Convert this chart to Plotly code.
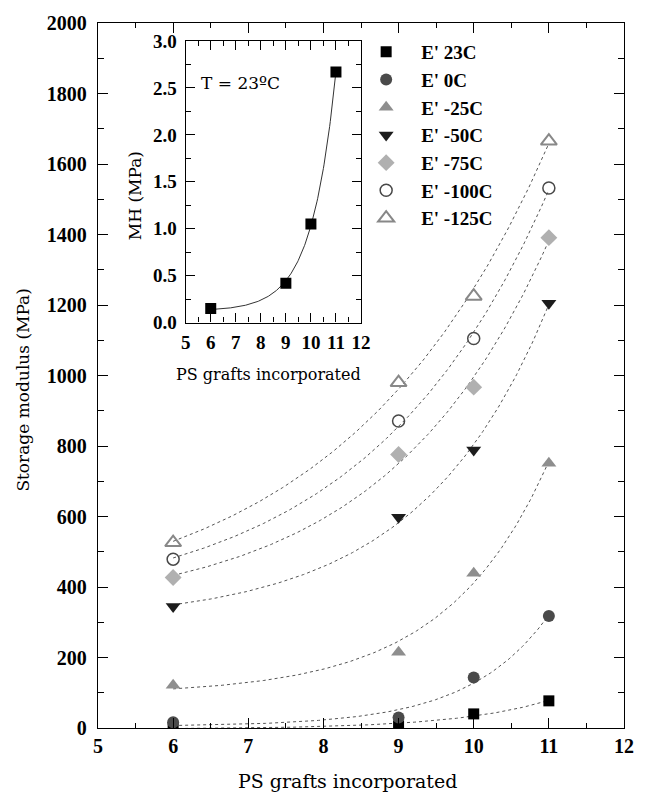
import numpy as np
import plotly.graph_objects as go

# ---------------- data ----------------
grafts = [6, 9, 10, 11]
series_names = ["E' 23C", "E' 0C", "E' -25C", "E' -50C", "E' -75C", "E' -100C", "E' -125C"]
e_23 = [1, 6, 40, 77]
e_0 = [16, 30, 143, 318]
e_m25 = [121, 215, 439, 751]
e_m50 = [345, 598, 789, 1205]
e_m75 = [427, 776, 967, 1391]
e_m100 = [479, 871, 1105, 1532]
e_m125 = [526, 980, 1225, 1665]

inset_grafts = [6, 9, 10, 11]
mh_values = [0.15, 0.42, 1.05, 2.67]

x_ticks = [5, 6, 7, 8, 9, 10, 11, 12]
y_ticks = [0, 200, 400, 600, 800, 1000, 1200, 1400, 1600, 1800, 2000]
inset_y_ticks = [0.0, 0.5, 1.0, 1.5, 2.0, 2.5, 3.0]

# ---------------- styles ----------------
FONT = "Liberation Serif"
TFONT = "DejaVu Serif"
styles = [
    dict(symbol="square", color="#000000", size=11, line=dict(width=0)),
    dict(symbol="circle", color="#4a4a4a", size=12, line=dict(width=0)),
    dict(symbol="triangle-up", color="#8e8e8e", size=13, line=dict(width=0)),
    dict(symbol="triangle-down", color="#1c1c1c", size=13, line=dict(width=0)),
    dict(symbol="diamond", color="#b0b0b0", size=13, line=dict(width=0)),
    dict(symbol="circle-open", color="#484848", size=12, line=dict(width=1.5, color="#484848")),
    dict(symbol="triangle-up-open", color="#888888", size=14, line=dict(width=2, color="#888888")),
]
all_series = [e_23, e_0, e_m25, e_m50, e_m75, e_m100, e_m125]


def expfit(x, y):
    """Least squares fit of y = y0 + A*exp(x/t)."""
    x = np.asarray(x, float)
    y = np.asarray(y, float)
    best = None
    for t in np.linspace(0.3, 12, 3000):
        M = np.column_stack([np.ones_like(x), np.exp(x / t)])
        coef, *_ = np.linalg.lstsq(M, y, rcond=None)
        err = float(np.sum((M @ coef - y) ** 2))
        if best is None or err < best[0]:
            best = (err, t, coef)
    _, t, coef = best
    return lambda xx: coef[0] + coef[1] * np.exp(np.asarray(xx) / t)


fig = go.Figure()

xs = np.linspace(min(grafts), max(grafts), 200)
for vals in all_series:
    f = expfit(grafts, vals)
    fig.add_trace(go.Scatter(x=xs, y=f(xs), mode="lines", showlegend=False,
                             line=dict(color="#555555", width=1, dash="3px,3px"),
                             hoverinfo="skip", xaxis="x", yaxis="y"))

for i, (name, vals, st) in enumerate(zip(series_names, all_series, styles)):
    fig.add_trace(go.Scatter(x=grafts, y=vals, mode="markers", name=name,
                             marker=st, xaxis="x", yaxis="y"))

# inset
fi = expfit(inset_grafts, mh_values)
xi = np.linspace(min(inset_grafts), max(inset_grafts), 200)
fig.add_trace(go.Scatter(x=xi, y=fi(xi), mode="lines", showlegend=False,
                         line=dict(color="#333333", width=1), xaxis="x2", yaxis="y2"))
fig.add_trace(go.Scatter(x=inset_grafts, y=mh_values, mode="markers", showlegend=False,
                         marker=dict(symbol="square", color="#000000", size=11),
                         xaxis="x2", yaxis="y2"))

axis_common = dict(showline=True, linecolor="black", linewidth=1.3, mirror="ticks",
                   ticks="inside", tickcolor="black", showgrid=False, zeroline=False)

fig.update_layout(
    width=646, height=795,
    margin=dict(l=98, r=14, t=22, b=67),
    paper_bgcolor="white", plot_bgcolor="white",
    font=dict(family=FONT, color="black"),
    xaxis=dict(range=[5, 12], tickvals=x_ticks, ticklen=10, tickwidth=1.2,
               minor=dict(dtick=0.5, ticklen=5, ticks="inside", tickcolor="black"),
               tickfont=dict(family=FONT, size=20, weight="bold"), ticklabelstandoff=0,
               **axis_common),
    yaxis=dict(range=[0, 2000], tickvals=y_ticks, ticklen=10, tickwidth=1.2,
               minor=dict(dtick=100, ticklen=6, ticks="inside", tickcolor="black"),
               tickfont=dict(family=FONT, size=20, weight="bold"), ticklabelstandoff=6,
               **axis_common),
    xaxis2=dict(domain=[0.1667, 0.5], anchor="y2", range=[5, 12], tickvals=x_ticks,
                ticklen=9, minor=dict(dtick=0.5, ticklen=5, ticks="inside", tickcolor="black"),
                tickfont=dict(family=FONT, size=19, weight="bold"), ticklabelstandoff=2,
                **axis_common),
    yaxis2=dict(domain=[0.575, 0.9745], anchor="x2", range=[0, 3], tickvals=inset_y_ticks,
                tickformat=".1f", ticklen=9,
                minor=dict(dtick=0.25, ticklen=5, ticks="inside", tickcolor="black"),
                tickfont=dict(family=FONT, size=19, weight="bold"), ticklabelstandoff=4,
                **axis_common),
    legend=dict(x=(355 - 98) / 534, y=(728 - 32) / 706, xanchor="left", yanchor="top",
                xref="paper", yref="paper", bgcolor="rgba(0,0,0,0)",
                font=dict(family=FONT, size=19, weight="bold"), itemwidth=60,
                tracegroupgap=0, traceorder="normal"),
    showlegend=True,
)

fig.add_annotation(text="Storage modulus (MPa)", xref="paper", yref="paper",
                   x=(22 - 98) / 534, y=(728 - 389) / 706, textangle=-90, showarrow=False,
                   font=dict(family=TFONT, size=17), xanchor="center", yanchor="middle")
fig.add_annotation(text="PS grafts incorporated", xref="paper", yref="paper",
                   x=(351 - 98) / 534, y=(728 - 781) / 706, showarrow=False,
                   font=dict(family=TFONT, size=19), xanchor="center", yanchor="middle")
fig.add_annotation(text="MH (MPa)", xref="paper", yref="paper",
                   x=(135 - 98) / 534, y=(728 - 195) / 706, textangle=-90, showarrow=False,
                   font=dict(family=TFONT, size=17), xanchor="center", yanchor="middle")
fig.add_annotation(text="PS grafts incorporated", xref="paper", yref="paper",
                   x=(271 - 98) / 534, y=(728 - 374) / 706, showarrow=False,
                   font=dict(family=TFONT, size=16), xanchor="center", yanchor="middle")
fig.add_annotation(text="T = 23ºC", xref="paper", yref="paper",
                   x=(243 - 98) / 534, y=(728 - 82) / 706, showarrow=False,
                   font=dict(family=TFONT, size=17), xanchor="center", yanchor="middle")

fig.write_html("out.html")
